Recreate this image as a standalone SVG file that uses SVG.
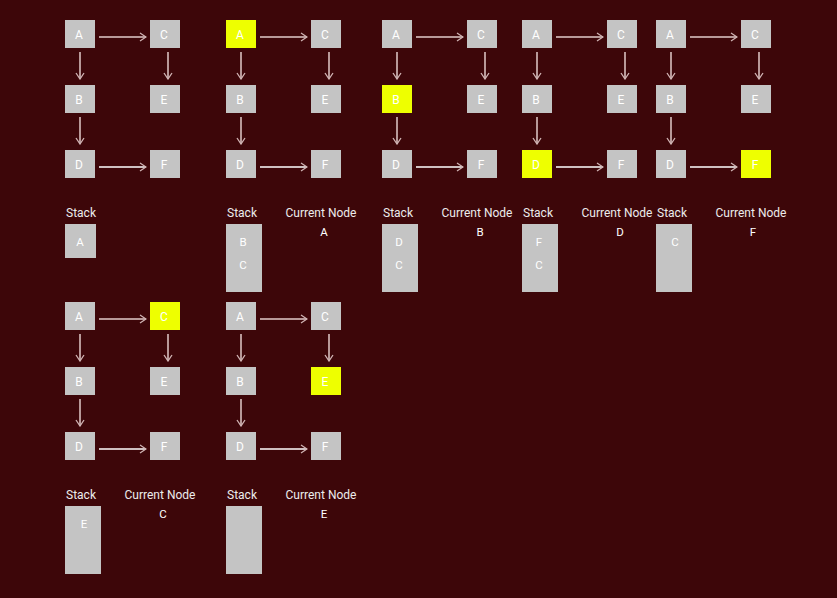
<svg xmlns="http://www.w3.org/2000/svg" width="837" height="598" viewBox="0 0 837 598">
<defs>
<style>
.bg{fill:#3d0609}
.n{fill:#c4c4c4}
.hl{fill:#eeff00}
.t{font-family:Roboto,"Liberation Sans",sans-serif;font-size:12px;fill:#ffffff;text-anchor:middle}
.s{font-family:Roboto,"Liberation Sans",sans-serif;font-size:11.5px;fill:#ffffff;text-anchor:middle}
.lbl{font-family:Roboto,"Liberation Sans",sans-serif;font-size:12px;fill:#ececec;text-anchor:middle}
.e{stroke:#b89999;stroke-width:2;fill:none;marker-end:url(#ah)}
.ew{stroke:#ffffff;stroke-width:1.5;fill:none;marker-end:url(#ah)}
</style>
<marker id="ah" viewBox="0 0 8 10" refX="7" refY="5" markerWidth="8" markerHeight="10" markerUnits="userSpaceOnUse" orient="auto">
<path d="M1,1 L7,5 L1,9" fill="none" stroke="#d0b4b4" stroke-width="1.3"/>
</marker>
</defs>
<rect class="bg" x="0" y="0" width="837" height="598"/>

<!-- Panel 1 -->
<g id="panel1" transform="translate(65,20)">
<g id="p1-connectors">
<line class="e" x1="34" y1="17" x2="81" y2="17"/>
<line class="e" x1="15" y1="32" x2="15" y2="59"/>
<line class="e" x1="103" y1="32" x2="103" y2="59"/>
<line class="e" x1="15" y1="97" x2="15" y2="124"/>
<line class="ew" x1="34" y1="147" x2="81" y2="147"/>
</g>
<g id="p1-A"><rect class="n" x="0" y="0" width="30" height="28"/><text class="t" x="14" y="18.5">A</text></g>
<g id="p1-C"><rect class="n" x="85" y="0" width="30" height="28"/><text class="t" x="99" y="18.5">C</text></g>
<g id="p1-B"><rect class="n" x="0" y="65" width="30" height="28"/><text class="t" x="14" y="83.5">B</text></g>
<g id="p1-E"><rect class="n" x="85" y="65" width="30" height="28"/><text class="t" x="99" y="83.5">E</text></g>
<g id="p1-D"><rect class="n" x="0" y="130" width="30" height="28"/><text class="t" x="14" y="148.5">D</text></g>
<g id="p1-F"><rect class="n" x="85" y="130" width="30" height="28"/><text class="t" x="99" y="148.5">F</text></g>
<g id="p1-stack"><text class="lbl" x="16" y="197">Stack</text><rect class="n" x="0" y="204" width="31" height="34"/><text class="s" x="15" y="226">A</text></g>
</g>

<!-- Panel 2 -->
<g id="panel2" transform="translate(226,20)">
<g id="p2-connectors">
<line class="e" x1="34" y1="17" x2="81" y2="17"/>
<line class="e" x1="15" y1="32" x2="15" y2="59"/>
<line class="e" x1="103" y1="32" x2="103" y2="59"/>
<line class="e" x1="15" y1="97" x2="15" y2="124"/>
<line class="ew" x1="34" y1="147" x2="81" y2="147"/>
</g>
<g id="p2-A"><rect class="hl" x="0" y="0" width="30" height="28"/><text class="t" x="14" y="18.5">A</text></g>
<g id="p2-C"><rect class="n" x="85" y="0" width="30" height="28"/><text class="t" x="99" y="18.5">C</text></g>
<g id="p2-B"><rect class="n" x="0" y="65" width="30" height="28"/><text class="t" x="14" y="83.5">B</text></g>
<g id="p2-E"><rect class="n" x="85" y="65" width="30" height="28"/><text class="t" x="99" y="83.5">E</text></g>
<g id="p2-D"><rect class="n" x="0" y="130" width="30" height="28"/><text class="t" x="14" y="148.5">D</text></g>
<g id="p2-F"><rect class="n" x="85" y="130" width="30" height="28"/><text class="t" x="99" y="148.5">F</text></g>
<g id="p2-stack"><text class="lbl" x="16" y="197">Stack</text><rect class="n" x="0" y="204" width="36" height="68"/><text class="s" x="17" y="226">B</text><text class="s" x="17" y="249">C</text></g>
<g id="p2-current"><text class="lbl" x="95" y="197">Current Node</text><text class="s" x="98" y="216">A</text></g>
</g>

<!-- Panel 3 -->
<g id="panel3" transform="translate(382,20)">
<g id="p3-connectors">
<line class="e" x1="34" y1="17" x2="81" y2="17"/>
<line class="e" x1="15" y1="32" x2="15" y2="59"/>
<line class="e" x1="103" y1="32" x2="103" y2="59"/>
<line class="e" x1="15" y1="97" x2="15" y2="124"/>
<line class="ew" x1="34" y1="147" x2="81" y2="147"/>
</g>
<g id="p3-A"><rect class="n" x="0" y="0" width="30" height="28"/><text class="t" x="14" y="18.5">A</text></g>
<g id="p3-C"><rect class="n" x="85" y="0" width="30" height="28"/><text class="t" x="99" y="18.5">C</text></g>
<g id="p3-B"><rect class="hl" x="0" y="65" width="30" height="28"/><text class="t" x="14" y="83.5">B</text></g>
<g id="p3-E"><rect class="n" x="85" y="65" width="30" height="28"/><text class="t" x="99" y="83.5">E</text></g>
<g id="p3-D"><rect class="n" x="0" y="130" width="30" height="28"/><text class="t" x="14" y="148.5">D</text></g>
<g id="p3-F"><rect class="n" x="85" y="130" width="30" height="28"/><text class="t" x="99" y="148.5">F</text></g>
<g id="p3-stack"><text class="lbl" x="16" y="197">Stack</text><rect class="n" x="0" y="204" width="36" height="68"/><text class="s" x="17" y="226">D</text><text class="s" x="17" y="249">C</text></g>
<g id="p3-current"><text class="lbl" x="95" y="197">Current Node</text><text class="s" x="98" y="216">B</text></g>
</g>

<!-- Panel 4 -->
<g id="panel4" transform="translate(522,20)">
<g id="p4-connectors">
<line class="e" x1="34" y1="17" x2="81" y2="17"/>
<line class="e" x1="15" y1="32" x2="15" y2="59"/>
<line class="e" x1="103" y1="32" x2="103" y2="59"/>
<line class="e" x1="15" y1="97" x2="15" y2="124"/>
<line class="ew" x1="34" y1="147" x2="81" y2="147"/>
</g>
<g id="p4-A"><rect class="n" x="0" y="0" width="30" height="28"/><text class="t" x="14" y="18.5">A</text></g>
<g id="p4-C"><rect class="n" x="85" y="0" width="30" height="28"/><text class="t" x="99" y="18.5">C</text></g>
<g id="p4-B"><rect class="n" x="0" y="65" width="30" height="28"/><text class="t" x="14" y="83.5">B</text></g>
<g id="p4-E"><rect class="n" x="85" y="65" width="30" height="28"/><text class="t" x="99" y="83.5">E</text></g>
<g id="p4-D"><rect class="hl" x="0" y="130" width="30" height="28"/><text class="t" x="14" y="148.5">D</text></g>
<g id="p4-F"><rect class="n" x="85" y="130" width="30" height="28"/><text class="t" x="99" y="148.5">F</text></g>
<g id="p4-stack"><text class="lbl" x="16" y="197">Stack</text><rect class="n" x="0" y="204" width="36" height="68"/><text class="s" x="17" y="226">F</text><text class="s" x="17" y="249">C</text></g>
<g id="p4-current"><text class="lbl" x="95" y="197">Current Node</text><text class="s" x="98" y="216">D</text></g>
</g>

<!-- Panel 5 -->
<g id="panel5" transform="translate(656,20)">
<g id="p5-connectors">
<line class="e" x1="34" y1="17" x2="81" y2="17"/>
<line class="e" x1="15" y1="32" x2="15" y2="59"/>
<line class="e" x1="103" y1="32" x2="103" y2="59"/>
<line class="e" x1="15" y1="97" x2="15" y2="124"/>
<line class="ew" x1="34" y1="147" x2="81" y2="147"/>
</g>
<g id="p5-A"><rect class="n" x="0" y="0" width="30" height="28"/><text class="t" x="14" y="18.5">A</text></g>
<g id="p5-C"><rect class="n" x="85" y="0" width="30" height="28"/><text class="t" x="99" y="18.5">C</text></g>
<g id="p5-B"><rect class="n" x="0" y="65" width="30" height="28"/><text class="t" x="14" y="83.5">B</text></g>
<g id="p5-E"><rect class="n" x="85" y="65" width="30" height="28"/><text class="t" x="99" y="83.5">E</text></g>
<g id="p5-D"><rect class="n" x="0" y="130" width="30" height="28"/><text class="t" x="14" y="148.5">D</text></g>
<g id="p5-F"><rect class="hl" x="85" y="130" width="30" height="28"/><text class="t" x="99" y="148.5">F</text></g>
<g id="p5-stack"><text class="lbl" x="16" y="197">Stack</text><rect class="n" x="0" y="204" width="36" height="68"/><text class="s" x="19" y="226">C</text></g>
<g id="p5-current"><text class="lbl" x="95" y="197">Current Node</text><text class="s" x="97" y="216">F</text></g>
</g>

<!-- Panel 6 -->
<g id="panel6" transform="translate(65,302)">
<g id="p6-connectors">
<line class="e" x1="34" y1="17" x2="81" y2="17"/>
<line class="e" x1="15" y1="32" x2="15" y2="59"/>
<line class="e" x1="103" y1="32" x2="103" y2="59"/>
<line class="e" x1="15" y1="97" x2="15" y2="124"/>
<line class="ew" x1="34" y1="147" x2="81" y2="147"/>
</g>
<g id="p6-A"><rect class="n" x="0" y="0" width="30" height="28"/><text class="t" x="14" y="18.5">A</text></g>
<g id="p6-C"><rect class="hl" x="85" y="0" width="30" height="28"/><text class="t" x="99" y="18.5">C</text></g>
<g id="p6-B"><rect class="n" x="0" y="65" width="30" height="28"/><text class="t" x="14" y="83.5">B</text></g>
<g id="p6-E"><rect class="n" x="85" y="65" width="30" height="28"/><text class="t" x="99" y="83.5">E</text></g>
<g id="p6-D"><rect class="n" x="0" y="130" width="30" height="28"/><text class="t" x="14" y="148.5">D</text></g>
<g id="p6-F"><rect class="n" x="85" y="130" width="30" height="28"/><text class="t" x="99" y="148.5">F</text></g>
<g id="p6-stack"><text class="lbl" x="16" y="197">Stack</text><rect class="n" x="0" y="204" width="36" height="68"/><text class="s" x="19" y="226">E</text></g>
<g id="p6-current"><text class="lbl" x="95" y="197">Current Node</text><text class="s" x="98" y="216">C</text></g>
</g>

<!-- Panel 7 -->
<g id="panel7" transform="translate(226,302)">
<g id="p7-connectors">
<line class="e" x1="34" y1="17" x2="81" y2="17"/>
<line class="e" x1="15" y1="32" x2="15" y2="59"/>
<line class="e" x1="103" y1="32" x2="103" y2="59"/>
<line class="e" x1="15" y1="97" x2="15" y2="124"/>
<line class="ew" x1="34" y1="147" x2="81" y2="147"/>
</g>
<g id="p7-A"><rect class="n" x="0" y="0" width="30" height="28"/><text class="t" x="14" y="18.5">A</text></g>
<g id="p7-C"><rect class="n" x="85" y="0" width="30" height="28"/><text class="t" x="99" y="18.5">C</text></g>
<g id="p7-B"><rect class="n" x="0" y="65" width="30" height="28"/><text class="t" x="14" y="83.5">B</text></g>
<g id="p7-E"><rect class="hl" x="85" y="65" width="30" height="28"/><text class="t" x="99" y="83.5">E</text></g>
<g id="p7-D"><rect class="n" x="0" y="130" width="30" height="28"/><text class="t" x="14" y="148.5">D</text></g>
<g id="p7-F"><rect class="n" x="85" y="130" width="30" height="28"/><text class="t" x="99" y="148.5">F</text></g>
<g id="p7-stack"><text class="lbl" x="16" y="197">Stack</text><rect class="n" x="0" y="204" width="36" height="68"/></g>
<g id="p7-current"><text class="lbl" x="95" y="197">Current Node</text><text class="s" x="98" y="216">E</text></g>
</g>
</svg>
